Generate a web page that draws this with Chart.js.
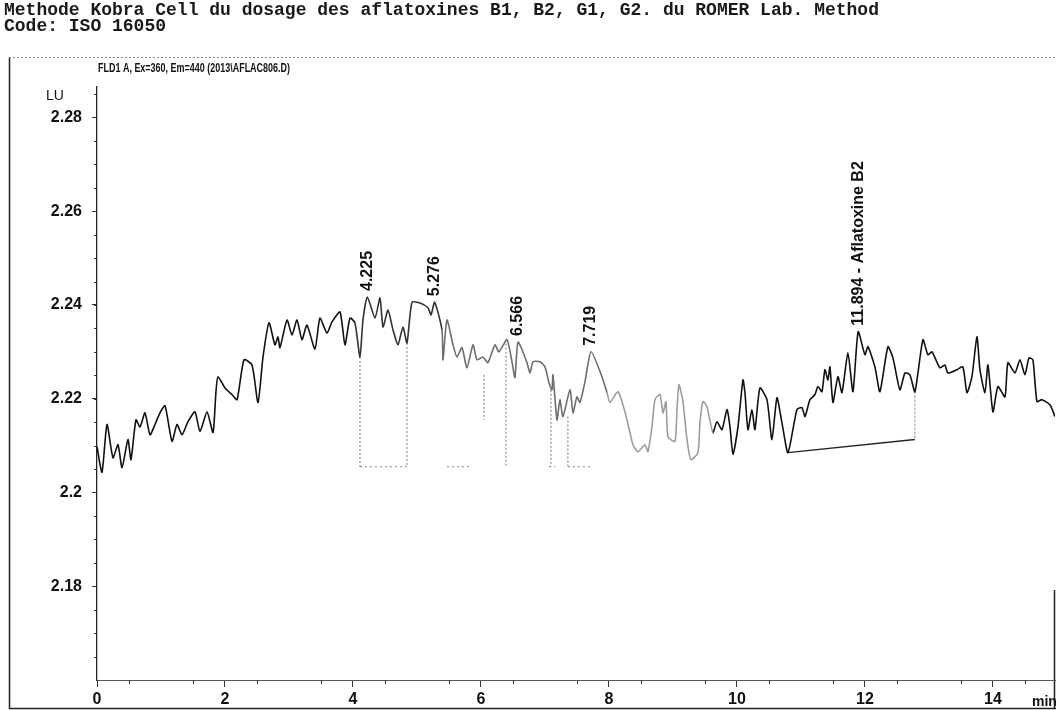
<!DOCTYPE html>
<html>
<head>
<meta charset="utf-8">
<title>Chromatogramme FLD1 A</title>
<script src="https://cdn.jsdelivr.net/npm/chart.js@4.4.1/dist/chart.umd.min.js"></script>
<style>
  html, body { margin: 0; padding: 0; background: #fff; }
  #wrap { position: relative; width: 1056px; height: 710px; }
</style>
</head>
<body>
<div id="wrap"><canvas id="chromChart"></canvas></div>
<script>
// retention time (min) and detector signal (LU)
const times = [0, 0.078, 0.156, 0.25, 0.328, 0.391, 0.484, 0.531, 0.609, 0.672,
    0.75, 0.828, 0.906, 0.984, 1.063, 1.172, 1.25, 1.328, 1.422, 1.531,
    1.609, 1.719, 1.813, 1.859, 1.891, 2.0, 2.109, 2.188, 2.297, 2.422,
    2.516, 2.594, 2.688, 2.781, 2.828, 2.859, 2.969, 3.047, 3.125, 3.203,
    3.281, 3.406, 3.484, 3.594, 3.672, 3.797, 3.875, 3.953, 4.031, 4.109,
    4.156, 4.225, 4.344, 4.422, 4.469, 4.547, 4.625, 4.703, 4.781, 4.844,
    4.922, 5.047, 5.172, 5.22, 5.276, 5.391, 5.406, 5.469, 5.563, 5.625,
    5.703, 5.781, 5.875, 5.938, 6.031, 6.109, 6.219, 6.281, 6.406, 6.484,
    6.531, 6.58, 6.719, 6.766, 6.813, 6.922, 7.0, 7.063, 7.109, 7.125,
    7.188, 7.234, 7.281, 7.391, 7.438, 7.5, 7.547, 7.625, 7.72, 7.891,
    7.969, 8.016, 8.141, 8.25, 8.328, 8.375, 8.453, 8.563, 8.609, 8.672,
    8.719, 8.797, 8.844, 8.891, 8.922, 9.031, 9.063, 9.094, 9.156, 9.219,
    9.281, 9.391, 9.422, 9.469, 9.531, 9.625, 9.688, 9.766, 9.844, 9.891,
    9.938, 10.016, 10.094, 10.125, 10.172, 10.234, 10.281, 10.359, 10.469, 10.547,
    10.625, 10.703, 10.797, 10.938, 11.016, 11.063, 11.141, 11.219, 11.266, 11.328,
    11.375, 11.422, 11.453, 11.5, 11.578, 11.641, 11.734, 11.813, 11.894, 12.0,
    12.047, 12.156, 12.234, 12.359, 12.438, 12.547, 12.625, 12.703, 12.781, 12.906,
    12.984, 13.047, 13.172, 13.25, 13.297, 13.438, 13.531, 13.594, 13.672, 13.75,
    13.797, 13.875, 13.922, 14.0, 14.078, 14.188, 14.234, 14.344, 14.422, 14.5,
    14.563, 14.625, 14.688, 14.766, 14.891, 14.969];

const lu = [2.2098, 2.2043, 2.2145, 2.2074, 2.2102, 2.2053, 2.2113, 2.2070, 2.2155, 2.2140,
    2.2170, 2.2123, 2.2145, 2.2170, 2.2185, 2.2109, 2.2145, 2.2123, 2.2151, 2.2172,
    2.2130, 2.2172, 2.2128, 2.2215, 2.2247, 2.2223, 2.2209, 2.2198, 2.2283, 2.2272,
    2.2192, 2.2289, 2.2362, 2.2315, 2.2332, 2.2309, 2.2368, 2.2336, 2.2368, 2.2326,
    2.2357, 2.2306, 2.2372, 2.2340, 2.2364, 2.2385, 2.2315, 2.2372, 2.2362, 2.2289,
    2.2368, 2.2417, 2.2372, 2.2415, 2.2353, 2.2389, 2.2347, 2.2315, 2.2353, 2.2319,
    2.2406, 2.2404, 2.2394, 2.2379, 2.2406, 2.2347, 2.2283, 2.2368, 2.2315, 2.2289,
    2.2309, 2.2266, 2.2315, 2.2283, 2.2289, 2.2277, 2.2315, 2.2300, 2.2326, 2.2279,
    2.2245, 2.2321, 2.2277, 2.2255, 2.2279, 2.2279, 2.2268, 2.2234, 2.2219, 2.2251,
    2.2155, 2.2198, 2.2162, 2.2219, 2.2170, 2.2204, 2.2192, 2.2236, 2.2300, 2.2247,
    2.2213, 2.2192, 2.2215, 2.2172, 2.2128, 2.2102, 2.2087, 2.2102, 2.2087, 2.2140,
    2.2198, 2.2209, 2.2170, 2.2194, 2.2119, 2.2109, 2.2177, 2.2230, 2.2194, 2.2113,
    2.2070, 2.2085, 2.2149, 2.2194, 2.2183, 2.2128, 2.2151, 2.2134, 2.2177, 2.2140,
    2.2081, 2.2140, 2.2240, 2.2213, 2.2134, 2.2177, 2.2134, 2.2223, 2.2198, 2.2113,
    2.2202, 2.2149, 2.2085, 2.2177, 2.2181, 2.2162, 2.2198, 2.2209, 2.2226, 2.2215,
    2.2262, 2.2240, 2.2268, 2.2192, 2.2247, 2.2213, 2.2298, 2.2215, 2.2343, 2.2294,
    2.2311, 2.2268, 2.2215, 2.2311, 2.2287, 2.2219, 2.2255, 2.2251, 2.2215, 2.2326,
    2.2294, 2.2300, 2.2266, 2.2272, 2.2255, 2.2262, 2.2268, 2.2213, 2.2247, 2.2332,
    2.2262, 2.2213, 2.2272, 2.2172, 2.2226, 2.2204, 2.2277, 2.2255, 2.2283, 2.2251,
    2.2287, 2.2283, 2.2194, 2.2198, 2.2187, 2.2162];

// integrated peaks
const peakTimes = [4.225, 5.276, 6.566, 7.719, 11.894];
const peakLabels = ['4.225', '5.276', '6.566', '7.719', '11.894 - Aflatoxine B2'];

// integration baselines (start / end) and peak separators
const baseStartT = [4.109, 5.469, 7.063, 7.359, 10.797];
const baseStartV = [2.2055, 2.2055, 2.2055, 2.2055, 2.2085];
const baseEndT = [4.844, 5.828, 7.16, 7.703, 12.781];
const baseEndV = [2.2055, 2.2055, 2.2055, 2.2055, 2.2113];
const dropT = [4.109, 4.844, 6.047, 6.391, 7.094, 7.359, 12.781];
const dropTop = [2.2289, 2.2319, 2.2251, 2.2326, 2.2219, 2.2162, 2.2215];
const dropBottom = [2.2055, 2.2055, 2.2155, 2.2055, 2.2055, 2.2055, 2.2113];

const yTicks = [2.18, 2.2, 2.22, 2.24, 2.26, 2.28];
const xTicks = [0, 2, 4, 6, 8, 10, 12, 14];

const titleLines = ['Methode Kobra Cell du dosage des aflatoxines B1, B2, G1, G2. du ROMER Lab. Method',
    'Code: ISO 16050'];
const signalName = 'FLD1 A, Ex=360, Em=440 (2013\\AFLAC806.D)';

document.addEventListener("DOMContentLoaded", function () {

    const trace = times.map((t, i) => ({ x: t, y: lu[i] }));

    // short straight pieces separated by nulls so they do not join up
    const mainBase = [];
    const smallBase = [];
    baseStartT.forEach((t, i) => {
        const target = i === baseStartT.length - 1 ? mainBase : smallBase;
        target.push({ x: t, y: baseStartV[i] }, { x: baseEndT[i], y: baseEndV[i] }, { x: baseEndT[i], y: null });
    });
    const drops = [];
    dropT.forEach((t, i) => {
        drops.push({ x: t, y: dropTop[i] }, { x: t, y: dropBottom[i] }, { x: t, y: null });
    });

    // printout is faint in the middle of the run
    function traceColor(ctx) {
        const t = ctx.p0.parsed.x;
        if (t >= 7.9 && t < 9.6) return '#9c9c9c';
        if (t >= 5.35 && t < 7.9) return '#6e6e6e';
        if (t >= 4.0 && t < 5.35) return '#333';
        return '#111';
    }

    const decor = {
        id: 'decor',
        beforeDraw(chart) {
            const c = chart.ctx;
            c.save();
            c.fillStyle = '#fff';
            c.fillRect(0, 0, chart.width, chart.height);

            c.fillStyle = '#1a1a1a';
            c.font = 'bold 18px "Liberation Mono", "DejaVu Sans Mono", monospace';
            c.textBaseline = 'alphabetic';
            c.fillText(titleLines[0], 4, 15);
            c.fillText(titleLines[1], 4, 31);

            // frame of the printout
            c.strokeStyle = '#222';
            c.lineWidth = 1.5;
            c.beginPath();
            c.moveTo(9.5, 57);
            c.lineTo(9.5, 708.5);
            c.lineTo(1056, 708.5);
            c.moveTo(1054.5, 590);
            c.lineTo(1054.5, 708.5);
            c.stroke();
            c.strokeStyle = '#888';
            c.lineWidth = 1;
            c.setLineDash([2, 2]);
            c.beginPath();
            c.moveTo(9, 57.5);
            c.lineTo(1056, 57.5);
            c.stroke();
            c.setLineDash([]);

            // signal description, squeezed like the printer font
            c.fillStyle = '#111';
            c.font = 'bold 13px "Liberation Sans", Arial, sans-serif';
            const w = c.measureText(signalName).width;
            c.save();
            c.translate(98, 72);
            c.scale(192 / w, 1);
            c.fillText(signalName, 0, 0);
            c.restore();

            c.font = '14px "Liberation Sans", Arial, sans-serif';
            c.fillText('LU', 46, 100);
            c.restore();
        },
        afterDraw(chart) {
            const c = chart.ctx;
            const xs = chart.scales.x;
            const ys = chart.scales.y;
            c.save();
            c.strokeStyle = '#333';
            c.lineWidth = 1;
            c.beginPath();
            for (let v = 2.165; v < 2.286; v += 0.005) {
                const py = Math.round(ys.getPixelForValue(v)) + 0.5;
                c.moveTo(xs.left - 3, py);
                c.lineTo(xs.left, py);
            }
            for (let t = 0.5; t < 14.97; t += 1) {
                const px = Math.round(xs.getPixelForValue(t)) + 0.5;
                c.moveTo(px, ys.bottom);
                c.lineTo(px, ys.bottom + 4);
            }
            c.stroke();

            c.fillStyle = '#111';
            c.font = 'bold 14px "Liberation Sans", Arial, sans-serif';
            c.textBaseline = 'alphabetic';
            c.fillText('min', 1032, 706);

            // rotated retention time labels above each peak
            c.font = 'bold 16px "Liberation Sans", Arial, sans-serif';
            c.textAlign = 'left';
            c.textBaseline = 'middle';
            peakTimes.forEach((pt, i) => {
                let top = -Infinity;
                times.forEach((t, j) => {
                    if (Math.abs(t - pt) <= 0.08 && lu[j] > top) top = lu[j];
                });
                const px = xs.getPixelForValue(pt);
                const py = ys.getPixelForValue(top) - 6;
                c.save();
                c.translate(px, py);
                c.rotate(-Math.PI / 2);
                c.fillText(peakLabels[i], 0, 0);
                c.restore();
            });
            c.restore();
        }
    };

    const ctx = document.getElementById('chromChart').getContext('2d');
    new Chart(ctx, {
        type: 'line',
        data: {
            datasets: [{
                label: 'FLD1 A',
                data: trace,
                borderColor: '#111',
                borderWidth: 1.6,
                pointRadius: 0,
                tension: 0.2,
                segment: { borderColor: traceColor }
            }, {
                label: 'baseline',
                data: mainBase,
                borderColor: '#222',
                borderWidth: 1.3,
                pointRadius: 0,
                spanGaps: false
            }, {
                label: 'baseline small',
                data: smallBase,
                borderColor: '#888',
                borderWidth: 1,
                borderDash: [2, 3],
                pointRadius: 0,
                spanGaps: false
            }, {
                label: 'drops',
                data: drops,
                borderColor: '#777',
                borderWidth: 1,
                borderDash: [2, 2],
                pointRadius: 0,
                spanGaps: false
            }]
        },
        options: {
            responsive: true,
            maintainAspectRatio: false,
            animation: false,
            layout: { padding: { top: 87, right: 1, bottom: 0, left: 0 } },
            plugins: {
                legend: { display: false },
                tooltip: { enabled: false }
            },
            scales: {
                x: {
                    type: 'linear',
                    min: 0,
                    max: 14.97,
                    afterFit: s => { s.height = 30; },
                    afterBuildTicks: s => { s.ticks = xTicks.map(v => ({ value: v })); },
                    border: { color: '#555', width: 1, dash: [3, 1] },
                    grid: { drawOnChartArea: false, tickLength: 7, color: '#333' },
                    ticks: {
                        padding: 3,
                        maxRotation: 0,
                        color: '#111',
                        font: { family: '"Liberation Sans", Arial, sans-serif', size: 16, weight: 'bold' },
                        callback: v => String(v)
                    }
                },
                y: {
                    min: 2.16,
                    max: 2.2865,
                    afterFit: s => { s.width = 97; },
                    afterBuildTicks: s => { s.ticks = yTicks.map(v => ({ value: v })); },
                    border: { color: '#222', width: 1.3 },
                    grid: { drawOnChartArea: false, tickLength: 5, color: '#333' },
                    ticks: {
                        padding: 10,
                        color: '#111',
                        font: { family: '"Liberation Sans", Arial, sans-serif', size: 16, weight: 'bold' },
                        callback: v => String(Number(v.toFixed(2)))
                    }
                }
            }
        },
        plugins: [decor]
    });
});
</script>
</body>
</html>
